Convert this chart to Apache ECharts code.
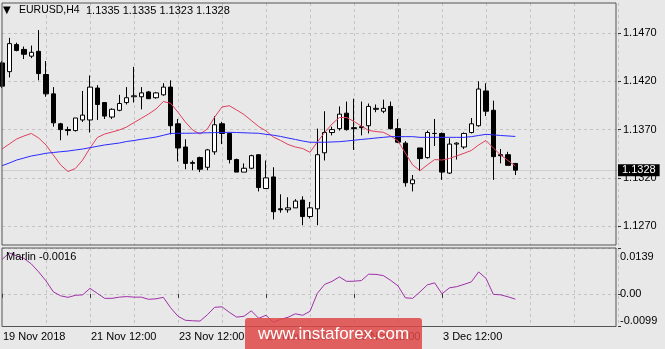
<!DOCTYPE html>
<html><head><meta charset="utf-8">
<script src="https://cdn.jsdelivr.net/npm/echarts@6/dist/echarts.min.js"></script>
<style>html,body{margin:0;padding:0;background:#e8e8e8}#c{width:665px;height:349px}</style>
</head><body><div id="c"></div>
<script>
const symbolName = 'EURUSD,H4';
const candleOpen  = [1.1439,1.1430,1.1458,1.1453,1.1446,1.1451,1.1427,1.1407,1.1376,1.1370,1.1369,1.1380,1.1380,1.1413,1.1398,1.1383,1.1390,1.1398,1.1404,1.1404,1.1409,1.1403,1.1406,1.1414,1.1376,1.1352,1.1335,1.1341,1.1331,1.1347,1.1376,1.1366,1.1339,1.1326,1.1330,1.1344,1.1309,1.1321,1.1288,1.1287,1.1289,1.1297,1.1280,1.1288,1.1346,1.1367,1.1371,1.1387,1.1372,1.1373,1.1374,1.1391,1.1389,1.1394,1.1371,1.1356,1.1314,1.1351,1.1341,1.1366,1.1366,1.1325,1.1355,1.1352,1.1367,1.1374,1.1410,1.1390,1.1344,1.1344,1.1335];
const candleClose = [1.1415,1.1459,1.1452,1.1448,1.1450,1.1428,1.1407,1.1377,1.1370,1.1369,1.1382,1.1385,1.1414,1.1396,1.1384,1.1391,1.1397,1.1403,1.1405,1.1408,1.1402,1.1408,1.1414,1.1374,1.1351,1.1335,1.1336,1.1329,1.1349,1.1375,1.1366,1.1339,1.1326,1.1330,1.1343,1.1310,1.1320,1.1285,1.1287,1.1289,1.1296,1.1280,1.1289,1.1344,1.1367,1.1370,1.1386,1.1370,1.1371,1.1372,1.1394,1.1392,1.1392,1.1371,1.1357,1.1315,1.1318,1.1340,1.1367,1.1366,1.1326,1.1355,1.1356,1.1366,1.1376,1.1412,1.1389,1.1342,1.1343,1.1333,1.1328];
const candleLow   = [1.1413,1.1424,1.1451,1.1443,1.1444,1.1421,1.1404,1.1373,1.1359,1.1364,1.1368,1.1378,1.1367,1.1380,1.1381,1.1381,1.1389,1.1396,1.1398,1.1391,1.1402,1.1402,1.1405,1.1365,1.1337,1.1329,1.1328,1.1326,1.1328,1.1344,1.1355,1.1335,1.1326,1.1326,1.1329,1.1306,1.1309,1.1277,1.1284,1.1284,1.1289,1.1271,1.1278,1.1271,1.1338,1.1364,1.1369,1.1369,1.1349,1.1364,1.1366,1.1388,1.1387,1.1370,1.1356,1.1311,1.1306,1.1327,1.1340,1.1353,1.1318,1.1324,1.1339,1.1350,1.1366,1.1373,1.1384,1.1318,1.1335,1.1333,1.1323];
const candleHigh  = [1.1441,1.1465,1.1460,1.1456,1.1457,1.1473,1.1441,1.1414,1.1377,1.1373,1.1382,1.1410,1.1426,1.1416,1.1398,1.1392,1.1406,1.1414,1.1435,1.1414,1.1410,1.1409,1.1418,1.1421,1.1381,1.1360,1.1338,1.1342,1.1350,1.1384,1.1378,1.1367,1.1340,1.1335,1.1344,1.1344,1.1338,1.1331,1.1303,1.1300,1.1298,1.1301,1.1295,1.1371,1.1389,1.1373,1.1394,1.1399,1.1402,1.1399,1.1397,1.1396,1.1401,1.1399,1.1381,1.1358,1.1323,1.1351,1.1369,1.1381,1.1367,1.1361,1.1357,1.1367,1.1382,1.1420,1.1418,1.1400,1.1350,1.1347,1.1335];
const maFast = [1.13499,1.13551,1.13603,1.13634,1.1366,1.13613,1.13541,1.13437,1.13334,1.13266,1.13297,1.13385,1.1351,1.13618,1.13654,1.13675,1.13696,1.13727,1.13773,1.13817,1.13862,1.13913,1.13991,1.13972,1.13879,1.13779,1.13696,1.13654,1.13706,1.1383,1.13934,1.13947,1.13903,1.13856,1.13794,1.13732,1.13686,1.13623,1.13587,1.13546,1.1352,1.13504,1.13465,1.13572,1.1367,1.13758,1.13825,1.13825,1.13784,1.13737,1.13691,1.1368,1.13672,1.13634,1.13582,1.13458,1.13334,1.13275,1.13334,1.1339,1.13385,1.13401,1.13427,1.13455,1.13484,1.13541,1.13587,1.1351,1.13437,1.1338,1.13323];
const maSlow = [1.13326,1.13354,1.13385,1.13406,1.13427,1.1344,1.13455,1.13463,1.13471,1.13478,1.13489,1.13499,1.13513,1.13527,1.13541,1.13551,1.13561,1.13577,1.13587,1.136,1.13611,1.13623,1.13641,1.1366,1.13662,1.13662,1.13663,1.13665,1.13667,1.13669,1.1367,1.13672,1.1367,1.13667,1.13664,1.13662,1.13651,1.13642,1.13629,1.13613,1.13598,1.13582,1.13569,1.13569,1.13569,1.13572,1.13575,1.13582,1.1359,1.13598,1.13605,1.13613,1.1362,1.13627,1.13627,1.13627,1.13627,1.1362,1.1362,1.1362,1.1362,1.1362,1.1362,1.1362,1.13627,1.13639,1.13651,1.13646,1.13639,1.13634,1.13629];
const marlin = [0.01043,0.0124,0.01149,0.01074,0.00907,0.00665,0.00393,0.0006,-0.0006,-0.00106,-0.00045,-0.0003,0.00166,0.00015,-0.00136,-0.00136,-0.001,-0.00082,-0.001,-0.001,-0.00166,-0.00151,-0.00106,-0.00423,-0.0068,-0.00801,-0.00816,-0.00826,-0.00635,-0.00408,-0.00393,-0.0056,-0.00705,-0.0068,-0.00514,-0.00741,-0.0065,-0.00862,-0.00771,-0.00711,-0.00605,-0.0065,-0.00529,0.00015,0.00287,0.00378,0.00514,0.00378,0.00384,0.00402,0.00596,0.0059,0.00553,0.00408,0.00242,-0.00121,-0.00136,0.0006,0.00272,0.00333,0,0.00181,0.00218,0.00287,0.00363,0.00665,0.00469,-0.00015,-0.0003,-0.0009,-0.0016];
const priceTicks = [1.1270,1.1320,1.1370,1.1420,1.1470];
const marlinTicks = [-0.0099,0,0.0139];
const timeLabels = {0:'19 Nov 2018',12:'21 Nov 12:00',24:'23 Nov 12:00',36:'27 Nov 12:00',48:'29 Nov 12:00',60:'3 Dec 12:00'};
const slotCount = 85;

const FONT = '"Liberation Sans", Arial, sans-serif';
const cats = Array.from({length: slotCount}, (_, i) => String(i));
const ohlc = candleOpen.map((o, i) => [o, candleClose[i], candleLow[i], candleHigh[i]]);
const last = candleOpen.length - 1;
const L = 2, W = 616;
const gridColor = '#c4c4c4';

const chart = echarts.init(document.getElementById('c'), null, {renderer: 'canvas'});
const xCommon = {
  type: 'category', data: cats, boundaryGap: false,
  axisLine: {show: false},
  splitLine: {show: true, interval: (i) => i % 6 === 0 && i > 0, lineStyle: {color: gridColor, type: [3, 3], width: 1}}
};
chart.setOption({
  backgroundColor: '#e8e8e8',
  animation: false,
  grid: [
    {left: L, top: 3, width: W, height: 242, outerBoundsMode: 'none', containLabel: false},
    {left: L, top: 248, width: W, height: 78.5, outerBoundsMode: 'none', containLabel: false}
  ],
  xAxis: [
    Object.assign({}, xCommon, {gridIndex: 0, axisTick: {show: false}, axisLabel: {show: false}}),
    Object.assign({}, xCommon, {gridIndex: 1,
      axisTick: {show: true, interval: (i) => timeLabels[i] !== undefined, length: 4, lineStyle: {color: '#333'}},
      axisLabel: {show: true, interval: (i) => timeLabels[i] !== undefined, formatter: (v, i) => timeLabels[i] || '',
        align: 'left', margin: 5, padding: [0, 0, 0, 1], color: '#000', fontSize: 11, fontFamily: FONT, hideOverlap: false}})
  ],
  yAxis: [
    {type: 'value', gridIndex: 0, position: 'right', min: 1.125054, max: 1.150106, scale: true,
      axisLine: {show: false},
      axisTick: {show: true, customValues: priceTicks, length: 3, lineStyle: {color: '#333'}},
      axisLabel: {customValues: priceTicks, formatter: (v) => v.toFixed(4), margin: 5, color: '#000', fontSize: 11, fontFamily: FONT},
      splitLine: {show: true, lineStyle: {color: gridColor, type: [3, 3]}}},
    {type: 'value', gridIndex: 1, position: 'right', min: -0.0099, max: 0.0139,
      axisLine: {show: false},
      axisTick: {show: true, customValues: marlinTicks, length: 3, lineStyle: {color: '#333'}},
      axisLabel: {customValues: marlinTicks, formatter: (v) => v === 0 ? '0.00' : v.toFixed(4), margin: 2, color: '#000', fontSize: 11, fontFamily: FONT,
        padding: [3, 0, 0, 0], verticalAlignMaxLabel: 'top', verticalAlignMinLabel: 'bottom'},
      splitLine: {show: true, lineStyle: {color: gridColor, type: [3, 3]}}}
  ],
  series: [
    {type: 'candlestick', xAxisIndex: 0, yAxisIndex: 0, data: ohlc, barWidth: 5,
      itemStyle: {color: '#ffffff', color0: '#000000', borderColor: '#000000', borderColor0: '#000000', borderWidth: 1},
      z: 3},
    {type: 'line', xAxisIndex: 0, yAxisIndex: 0, data: maFast, symbol: 'none', lineStyle: {color: '#e0405e', width: 1}, z: 4},
    {type: 'line', xAxisIndex: 0, yAxisIndex: 0, data: maSlow, symbol: 'none', lineStyle: {color: '#2a2aff', width: 1}, z: 4,
      markLine: {silent: true, symbol: 'none', animation: false, precision: 4, z: 2,
        data: [{yAxis: candleClose[last]}],
        lineStyle: {color: '#cfcfcf', type: 'solid', width: 1},
        label: {position: 'end', distance: 0, formatter: () => candleClose[last].toFixed(4), backgroundColor: '#000', color: '#fff',
          padding: [1, 4, 0, 4], fontSize: 11, fontFamily: FONT}}},
    {type: 'line', xAxisIndex: 1, yAxisIndex: 1, data: marlin, symbol: 'none', lineStyle: {color: '#a030a8', width: 1}, z: 4}
  ],
  graphic: [
    {type: 'rect', shape: {x: 2, y: 3, width: 614, height: 242}, style: {fill: 'none', stroke: '#555', lineWidth: 1}, silent: true, z: 10},
    {type: 'rect', shape: {x: 2, y: 248, width: 614, height: 78.5}, style: {fill: 'none', stroke: '#555', lineWidth: 1}, silent: true, z: 10},
    {type: 'text', left: 3, top: 5, style: {text: '▼', fontSize: 10, fill: '#000', fontFamily: '"DejaVu Sans", sans-serif'}, z: 11},
    {type: 'text', left: 19, top: 5, style: {text: symbolName, fontSize: 10.5, fill: '#000', fontFamily: FONT}, z: 11},
    {type: 'text', left: 86, top: 5, style: {text: [candleOpen[last], candleHigh[last], candleLow[last], candleClose[last]].map(v => v.toFixed(4)).join(' '), fontSize: 11, fill: '#000', fontFamily: FONT}, z: 11},
    {type: 'text', left: 6, top: 251, style: {text: 'Marlin ' + marlin[last].toFixed(4), fontSize: 11, fill: '#000', fontFamily: FONT}, z: 11},
    {type: 'rect', shape: {x: 245, y: 318, width: 177, height: 36, r: 3}, style: {fill: 'rgba(222,72,72,0.85)'}, z: 20},
    {type: 'text', x: 333.5, y: 334, style: {text: 'www.instaforex.com', fontSize: 17, fill: '#fff', fontFamily: FONT, align: 'center', verticalAlign: 'middle'}, z: 21}
  ]
});
</script></body></html>
